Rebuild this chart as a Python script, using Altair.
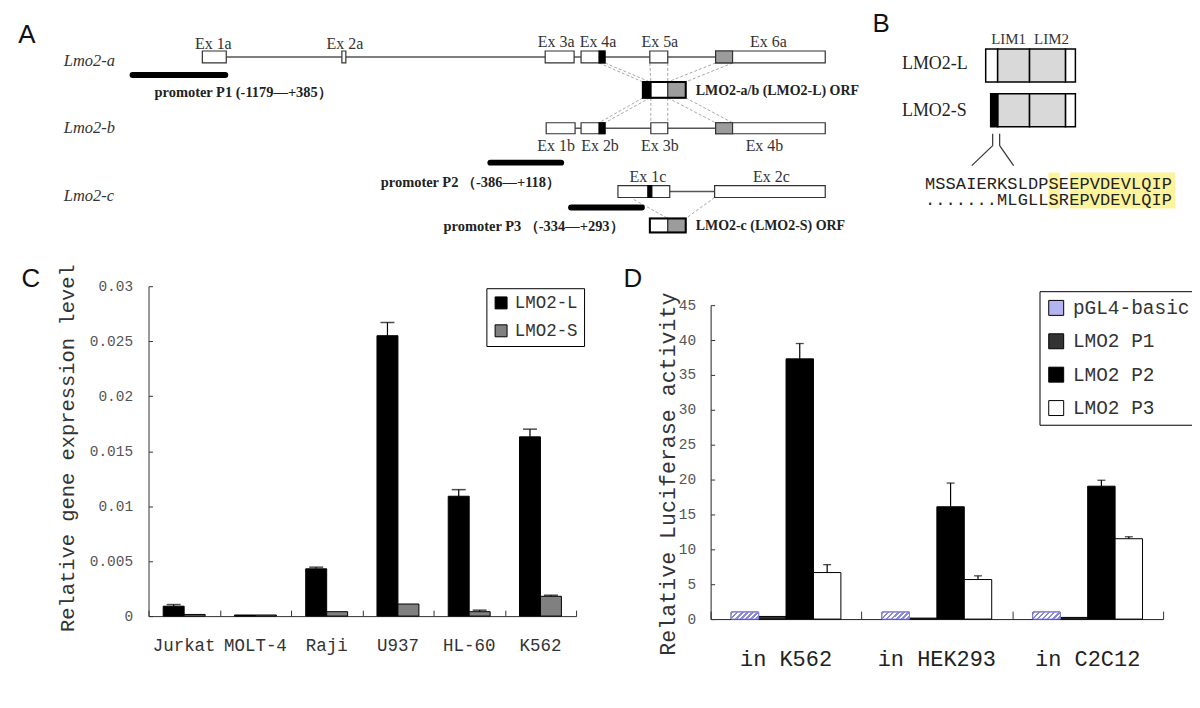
import altair as alt
import pandas as pd

W, H = 1188, 684          # plot area (page coords = plot coords + M)
M = 8
SERIF = "Liberation Serif"
MONO = "Liberation Mono"
SANS = "Liberation Sans"
TICKC = "#333333"

# ---------------- Panel C data ----------------
c_cats = ["Jurkat", "MOLT-4", "Raji", "U937", "HL-60", "K562"]
c_series = ["LMO2-L", "LMO2-S"]
c_L = [0.0009, 0.0001, 0.0043, 0.0255, 0.0109, 0.0163]
c_L_up = [0.00105, 0.0001, 0.00445, 0.0267, 0.0115, 0.0170]
c_S = [0.00015, 0.0001, 0.0004, 0.0011, 0.0004, 0.0018]
c_S_up = [0.00015, 0.0001, 0.0004, 0.0011, 0.00054, 0.0019]
c_ticks = [0, 0.005, 0.01, 0.015, 0.02, 0.025, 0.03]

# ---------------- Panel D data ----------------
d_cats = ["in K562", "in HEK293", "in C2C12"]
d_series = ["pGL4-basic", "LMO2 P1", "LMO2 P2", "LMO2 P3"]
d_pgl4 = [1.0, 1.0, 1.0]
d_p1 = [0.38, 0.14, 0.24]
d_p2 = [37.3, 16.1, 19.05]
d_p3 = [6.67, 5.67, 11.52]
d_p2_up = [39.5, 19.5, 19.9]
d_p3_up = [7.8, 6.2, 11.8]
d_ticks = [0, 5, 10, 15, 20, 25, 30, 35, 40, 45]

# ---------------- Panel A geometry (diagram units = page px) ----------------
a_rows = ["Lmo2-a", "Lmo2-b", "Lmo2-c"]
a_rows_y = [60, 127, 195]
a_introns = [(227, 718, 56), (577, 718, 127.5), (672, 717, 191)]
a_exons = [(203, 227, 50, 62), (343, 347, 50, 62), (547, 576, 50, 62), (583, 607, 50, 62),
           (652, 670, 50, 62), (718, 828, 50, 62),
           (548, 577, 122, 133), (583, 607, 122, 133), (653, 670, 122, 133), (718, 828, 122, 133),
           (620, 672, 185, 197), (717, 828, 185, 197),
           (653, 670, 81, 97), (652, 670, 218, 232)]
a_black = [(601, 607, 50, 62), (601, 607, 122, 133), (650, 654, 185, 197), (645, 653, 81, 97)]
a_gray = [(718, 735, 50, 62), (718, 735, 122, 133), (670, 688, 81, 97), (670, 688, 218, 232)]
a_orf_frames = [(645, 688, 81, 97), (652, 688, 218, 232)]
a_links = [(601, 62, 645, 81), (607, 62, 652, 81), (652, 62, 653, 81), (670, 62, 670, 81),
           (718, 62, 670, 81), (735, 62, 688, 81),
           (645, 97, 601, 122), (652, 97, 607, 122), (653, 97, 653, 122), (670, 97, 670, 122),
           (670, 97, 718, 122), (688, 97, 735, 122),
           (636, 199, 670, 218), (717, 197, 688, 218)]
a_exon_labels = [("Ex 1a", 214, 43), ("Ex 2a", 346, 43), ("Ex 3a", 558, 41), ("Ex 4a", 600, 41),
                 ("Ex 5a", 662, 41), ("Ex 6a", 771, 41), ("Ex 1b", 558, 145), ("Ex 2b", 602, 145),
                 ("Ex 3b", 662, 145), ("Ex 4b", 767, 145), ("Ex 1c", 650, 176), ("Ex 2c", 774, 176)]
a_promoters = [(133, 226, 74), (492, 563, 162), (573, 644, 207)]
a_prom_labels = [("promoter P1 (-1179\u2014+385\uff09", 155, 92),
                 ("promoter P2 \uff08-386\u2014+118\uff09", 382, 182),
                 ("promoter P3 \uff08-334\u2014+293\uff09", 445, 227)]
a_orf_labels = [("LMO2-a/b (LMO2-L) ORF", 698, 90), ("LMO2-c (LMO2-S) ORF", 698, 226)]

# ---------------- Panel B geometry ----------------
b_rows = ["LMO2-L", "LMO2-S"]
b_rows_y = [63, 110]
b_white = [(989, 1001, 48, 81), (1069, 1079, 48, 81), (1069, 1079, 93, 126)]
b_gray = [(1001, 1033, 48, 81), (1033, 1069, 48, 81), (1001, 1033, 93, 126), (1033, 1069, 93, 126)]
b_black = [(994, 1001, 93, 126)]
b_lim = [("LIM1", 1012, 38), ("LIM2", 1055, 38)]
b_lines = [(996, 133, 996, 145), (996, 145, 975, 165), (1003, 133, 1003, 145), (1003, 145, 1017, 165)]
b_seqs = ["MSSAIERKSLDPSEEPVDEVLQIP", ".......MLGLLSREPVDEVLQIP"]
b_seqs_y = [183, 200]
b_highlight = [(12, 13.1), (14.1, 24.3)]

letters = [("A", 27, 34), ("B", 884, 23), ("C", 31, 279), ("D", 635, 279)]

# ---------------- helpers ----------------
PX = alt.Scale(type="linear", domain=[M, M + W], range=[0, W], nice=False, zero=False)
PY = alt.Scale(type="linear", domain=[M, M + H], range=[0, H], nice=False, zero=False)


def rect_df(rows):
    return pd.DataFrame(rows, columns=["x1", "x2", "y1", "y2"])


def rects(rows, **mk):
    return alt.Chart(rect_df(rows)).mark_rect(**mk).encode(
        x=alt.X("x1:Q", scale=PX, axis=None), x2="x2:Q",
        y=alt.Y("y1:Q", scale=PY, axis=None), y2="y2:Q")


def segs(rows, **mk):
    df = pd.DataFrame(rows, columns=["x1", "y1", "x2", "y2"])
    return alt.Chart(df).mark_rule(**mk).encode(
        x=alt.X("x1:Q", scale=PX, axis=None), x2="x2:Q",
        y=alt.Y("y1:Q", scale=PY, axis=None), y2="y2:Q")


def texts(rows, **mk):
    df = pd.DataFrame(rows, columns=["label", "x", "y"])
    return alt.Chart(df).mark_text(**mk).encode(
        x=alt.X("x:Q", scale=PX, axis=None),
        y=alt.Y("y:Q", scale=PY, axis=None),
        text="label:N")


# ---------------- Panel A & B ----------------
intron_rows = [(x1, y, x2, y) for (x1, x2, y) in a_introns]
prom_rows = [(x1, y, x2, y) for (x1, x2, y) in a_promoters]

diagram = alt.layer(
    segs(intron_rows, color="#555555", strokeWidth=1.5),
    segs(a_links, color="#a8a8a8", strokeWidth=1, strokeDash=[3, 2]),
    rects(a_exons, fill="white", stroke="#333333", strokeWidth=1.2),
    rects(a_gray, fill="#9c9c9c", stroke="#333333", strokeWidth=1.2),
    rects(a_black, fill="black", stroke="black", strokeWidth=1.2),
    rects(a_orf_frames, filled=False, stroke="black", strokeWidth=2),
    segs(prom_rows, color="black", strokeWidth=6, strokeCap="round"),
    texts(a_exon_labels, font=SERIF, fontSize=16, color="#333333", align="center", baseline="middle"),
    texts(list(zip(a_rows, [64] * 3, a_rows_y)), font=SERIF, fontSize=16.5, fontStyle="italic",
          color="#333333", align="left", baseline="middle"),
    texts(a_prom_labels, font=SERIF, fontSize=14.5, fontWeight="bold", color="#222222",
          align="left", baseline="middle"),
    texts(a_orf_labels, font=SERIF, fontSize=14, fontWeight="bold", color="#222222",
          align="left", baseline="middle"),
    # Panel B
    rects(b_white, fill="white", stroke="black", strokeWidth=1.5),
    rects(b_gray, fill="#d9d9d9", stroke="black", strokeWidth=1.5),
    rects(b_black, fill="black", stroke="black", strokeWidth=1.5),
    segs(b_lines, color="#333333", strokeWidth=1.2),
    texts(b_lim, font=SERIF, fontSize=15, color="#333333", align="center", baseline="middle"),
    texts(list(zip(b_rows, [905] * 2, b_rows_y)), font=SERIF, fontSize=18, color="#222222",
          align="left", baseline="middle"),
    texts(letters, font=SANS, fontSize=26, color="#111111", align="center", baseline="middle"),
)

# ---------------- Sequence alignment (char-index scale) ----------------
SX = alt.Scale(type="linear", domain=[0, 24], range=[928 - M, 1176 - M], nice=False, zero=False)
seq_rows = []
for seq, y in zip(b_seqs, b_seqs_y):
    for i, ch in enumerate(seq):
        seq_rows.append({"pos": i + 0.5, "y": y, "ch": ch})
hl_df = pd.DataFrame([{"s": s, "e": e, "y1": 172, "y2": 208} for s, e in b_highlight])
seq_layer = alt.layer(
    alt.Chart(hl_df).mark_rect(fill="#fcf39a").encode(
        x=alt.X("s:Q", scale=SX, axis=None), x2="e:Q",
        y=alt.Y("y1:Q", scale=PY, axis=None), y2="y2:Q"),
    alt.Chart(pd.DataFrame(seq_rows)).mark_text(font=MONO, fontSize=17, color="#222222",
                                                 baseline="middle").encode(
        x=alt.X("pos:Q", scale=SX, axis=None),
        y=alt.Y("y:Q", scale=PY, axis=None),
        text="ch:N"),
)

# ---------------- Panel C ----------------
c_rows = []
for i, c in enumerate(c_cats):
    c_rows.append({"cat": c, "series": "LMO2-L", "value": c_L[i], "upper": c_L_up[i]})
    c_rows.append({"cat": c, "series": "LMO2-S", "value": c_S[i], "upper": c_S_up[i]})
cdf = pd.DataFrame(c_rows)

C_XS = alt.Scale(domain=c_cats, range=[149 - M, 578 - M], paddingInner=0, paddingOuter=0)
C_OS = alt.Scale(domain=c_series, paddingInner=0, paddingOuter=0.7)
C_YS = alt.Scale(domain=[0, 0.03], range=[617 - M, 286 - M], nice=False, zero=True)

c_bars = alt.Chart(cdf).mark_bar(stroke="black", strokeWidth=1).encode(
    x=alt.X("cat:N", scale=C_XS, sort=c_cats, axis=alt.Axis(
        orient="bottom", offset=-(H - (617 - M)), title=None, labelAngle=0,
        labelFont=MONO, labelFontSize=17.5, labelColor="#333333", labelPadding=30,
        labelBaseline="middle", ticks=False, tickSize=0, domain=True, domainColor="#333333",
        grid=False)),
    xOffset=alt.XOffset("series:N", scale=C_OS, sort=c_series),
    y=alt.Y("value:Q", scale=C_YS, axis=alt.Axis(
        orient="left", offset=-(149 - M), values=c_ticks, format="~g",
        labelFont=MONO, labelFontSize=14.5, labelColor="#555555", labelPadding=16,
        ticks=False, tickSize=0, domain=True, domainColor="#333333", grid=False,
        title="Relative gene expression level", titleFont=MONO, titleFontSize=20.5,
        titleFontWeight="normal", titleColor="#333333", titleAngle=270,
        titleX=68 - 149, titleY=448 - M, titleAlign="center", titleBaseline="middle")),
    fill=alt.Fill("series:N", scale=alt.Scale(domain=c_series, range=["#000000", "#808080"]),
                  legend=alt.Legend(orient="none", legendX=488 - M, legendY=288 - M, title=None,
                                    symbolType="square", symbolSize=144,
                                    symbolStrokeColor="black", symbolStrokeWidth=1,
                                    labelFont=MONO, labelFontSize=17.5, labelColor="#333333",
                                    strokeColor="black", fillColor="white", padding=6,
                                    rowPadding=9, labelOffset=5)),
)
c_err = alt.Chart(cdf).transform_filter("datum.upper > datum.value").mark_rule(
    color="black", strokeWidth=1.2).encode(
    x=alt.X("cat:N", scale=C_XS, sort=c_cats, axis=alt.Axis(
        orient="top", offset=-(617 - M), tickBand="extent", labels=False, domain=False,
        ticks=True, tickSize=6, tickColor=TICKC, tickWidth=1, title=None, grid=False)),
    xOffset=alt.XOffset("series:N", scale=C_OS, sort=c_series),
    y=alt.Y("value:Q", scale=C_YS, axis=None),
    y2="upper:Q",
)
c_cap = alt.Chart(cdf).transform_filter("datum.upper > datum.value").mark_tick(
    orient="horizontal", color="black", size=14, thickness=1.5).encode(
    x=alt.X("cat:N", scale=C_XS, sort=c_cats, axis=None),
    xOffset=alt.XOffset("series:N", scale=C_OS, sort=c_series),
    y=alt.Y("upper:Q", scale=C_YS, axis=alt.Axis(
        orient="right", offset=(149 - M) - W, values=c_ticks, labels=False, domain=False,
        ticks=True, tickSize=4, tickColor=TICKC, tickWidth=1, title=None, grid=False)),
)
panel_c = alt.layer(c_bars, c_err, c_cap).resolve_axis(x="independent", y="independent")

# ---------------- Panel D ----------------
d_rows = []
d_vals = [d_pgl4, d_p1, d_p2, d_p3]
d_ups = [d_pgl4, d_p1, d_p2_up, d_p3_up]
for s, vals, ups in zip(d_series, d_vals, d_ups):
    for i, c in enumerate(d_cats):
        d_rows.append({"cat": c, "series": s, "value": vals[i], "upper": ups[i]})
ddf = pd.DataFrame(d_rows)

D_XS = alt.Scale(domain=d_cats, range=[713 - M, 1167 - M], paddingInner=0, paddingOuter=0)
D_OS = alt.Scale(domain=d_series, paddingInner=0, paddingOuter=0.75)
D_YS = alt.Scale(domain=[0, 45], range=[620 - M, 305 - M], nice=False, zero=True)

LAV = "#8a8ae4"
stops = []
period = 0.14
k = 0
while k * period < 1:
    a = k * period
    b = min(a + period / 2, 1)
    cc = min(a + period, 1)
    stops += [{"offset": a, "color": LAV}, {"offset": b, "color": LAV},
              {"offset": b, "color": "#ffffff"}, {"offset": cc, "color": "#ffffff"}]
    k += 1
hatch = {"gradient": "linear", "x1": 0, "y1": 0, "x2": 1.25, "y2": 0.32, "stops": stops}

d_bars = alt.Chart(ddf).mark_bar(stroke="black", strokeWidth=1).encode(
    x=alt.X("cat:N", scale=D_XS, sort=d_cats, axis=alt.Axis(
        orient="bottom", offset=-(H - (620 - M)), title=None, labelAngle=0,
        labelFont=MONO, labelFontSize=22, labelColor="#222222", labelPadding=40,
        labelBaseline="middle", ticks=False, tickSize=0, domain=True, domainColor="#222222",
        grid=False)),
    xOffset=alt.XOffset("series:N", scale=D_OS, sort=d_series),
    y=alt.Y("value:Q", scale=D_YS, axis=alt.Axis(
        orient="left", offset=-(713 - M), values=d_ticks,
        labelFont=MONO, labelFontSize=14.5, labelColor="#555555", labelPadding=15,
        ticks=False, tickSize=0, domain=True, domainColor="#222222", grid=False,
        title="Relative Luciferase activity", titleFont=MONO, titleFontSize=21.7,
        titleFontWeight="normal", titleColor="#333333", titleAngle=270,
        titleX=670 - 713, titleY=474 - M, titleAlign="center", titleBaseline="middle")),
    fill=alt.Fill("series:N", scale=alt.Scale(domain=d_series,
                                              range=["#b4b4f0", "#333333", "#000000", "#ffffff"]),
                  legend=alt.Legend(orient="none", legendX=1043 - M, legendY=291 - M, title=None,
                                    symbolType="square", symbolSize=225,
                                    symbolStrokeColor="black", symbolStrokeWidth=1,
                                    labelFont=MONO, labelFontSize=19.5, labelColor="#333333",
                                    strokeColor="black", fillColor="white", padding=7,
                                    rowPadding=12.5, labelOffset=7)),
)
d_hatch = alt.Chart(ddf).transform_filter("datum.series === 'pGL4-basic'").mark_bar(
    fill=hatch, stroke="#8a8ae4", strokeWidth=1).encode(
    x=alt.X("cat:N", scale=D_XS, sort=d_cats, axis=None),
    xOffset=alt.XOffset("series:N", scale=D_OS, sort=d_series),
    y=alt.Y("value:Q", scale=D_YS, axis=None),
)
d_err = alt.Chart(ddf).transform_filter("datum.upper > datum.value").mark_rule(
    color="black", strokeWidth=1.2).encode(
    x=alt.X("cat:N", scale=D_XS, sort=d_cats, axis=alt.Axis(
        orient="top", offset=-(620 - M), tickBand="extent", labels=False, domain=False,
        ticks=True, tickSize=8, tickColor=TICKC, tickWidth=1, title=None, grid=False)),
    xOffset=alt.XOffset("series:N", scale=D_OS, sort=d_series),
    y=alt.Y("value:Q", scale=D_YS, axis=None),
    y2="upper:Q",
)
d_cap = alt.Chart(ddf).transform_filter("datum.upper > datum.value").mark_tick(
    orient="horizontal", color="black", size=8, thickness=1.3).encode(
    x=alt.X("cat:N", scale=D_XS, sort=d_cats, axis=None),
    xOffset=alt.XOffset("series:N", scale=D_OS, sort=d_series),
    y=alt.Y("upper:Q", scale=D_YS, axis=alt.Axis(
        orient="right", offset=(713 - M) - W, values=d_ticks, labels=False, domain=False,
        ticks=True, tickSize=4, tickColor=TICKC, tickWidth=1, title=None, grid=False)),
)
panel_d = alt.layer(d_bars, d_hatch, d_err, d_cap).resolve_axis(x="independent", y="independent")

chart = alt.layer(diagram, seq_layer, panel_c, panel_d).resolve_scale(
    x="independent", y="independent", xOffset="independent", fill="independent"
).properties(
    width=W, height=H, padding=0, autosize=alt.AutoSizeParams(type="none"),
    background="white",
).configure_view(strokeWidth=0)

chart.save("out.html", embed_options={"renderer": "svg", "actions": False})
